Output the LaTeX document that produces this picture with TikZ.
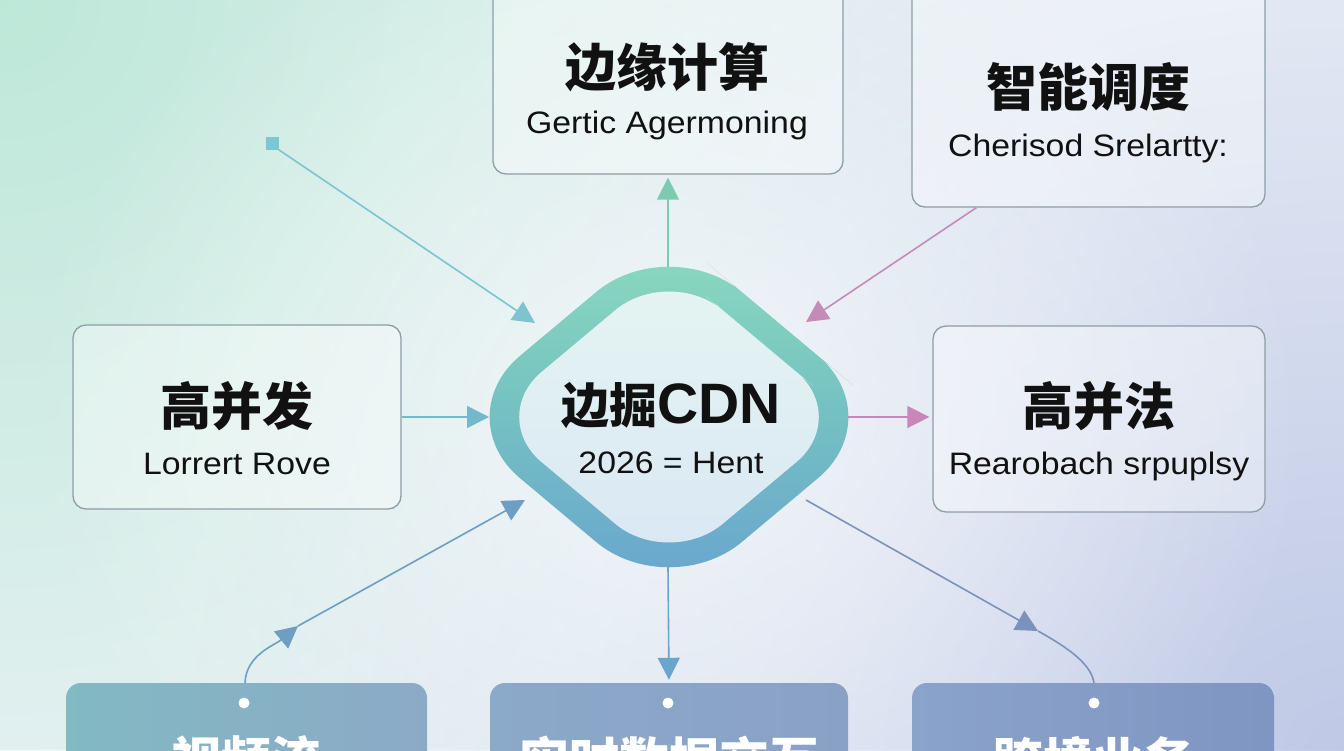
\documentclass[tikz,border=0pt]{standalone}
\usepackage{fontspec}
\setmainfont{Liberation Sans}
\newfontfamily\cjk{Noto Sans CJK SC}
\newfontfamily\subf[FakeStretch=1.09]{Liberation Sans}
\usetikzlibrary{arrows.meta,fadings}
\tikzfading[name=radfade, inner color=transparent!0, outer color=transparent!100]

\definecolor{bgbase}{HTML}{EEF3F8}
\definecolor{bgmint}{HTML}{B5E6D3}
\definecolor{bglav}{HTML}{B4BFE2}
\definecolor{cardline}{HTML}{8D9EA6}
\definecolor{dmtop}{HTML}{8DDCBD}
\definecolor{dmmid}{HTML}{74C0C2}
\definecolor{dmbot}{HTML}{68A2D0}
\definecolor{intop}{HTML}{E5F5F1}
\definecolor{inbot}{HTML}{D9E7F4}
\definecolor{sqc}{HTML}{7CC8D2}
\definecolor{cA}{HTML}{7EC3CF}
\definecolor{cB}{HTML}{7CCBB0}
\definecolor{cC}{HTML}{C58BB8}
\definecolor{cD}{HTML}{74B8CC}
\definecolor{cE}{HTML}{C987B8}
\definecolor{cF}{HTML}{6E9EC2}
\definecolor{cG}{HTML}{6AA5CC}
\definecolor{cH}{HTML}{7B93BB}
\definecolor{bAl}{HTML}{82B9C3}
\definecolor{bAr}{HTML}{8CAAC6}
\definecolor{bBl}{HTML}{8BA9C9}
\definecolor{bBr}{HTML}{8AA1C6}
\definecolor{bCl}{HTML}{8AA3CB}
\definecolor{bCr}{HTML}{7F95C2}
\definecolor{txt}{HTML}{111111}

\tikzset{
  card/.style={draw=cardline, line width=1.3pt, rounded corners=13pt, fill=white, fill opacity=0.35, inner sep=0pt},
  bcard/.style={rounded corners=15pt, inner sep=0pt, shade},
  ttl/.style={font=\cjk\bfseries\fontsize{51}{51}\selectfont, text=txt, inner sep=0pt},
  subt/.style={font=\subf\fontsize{31}{31}\selectfont, text=txt, inner sep=0pt, anchor=base},
  btxt/.style={font=\cjk\bfseries\fontsize{50}{50}\selectfont, text=white, inner sep=0pt},
  conn/.style={line width=1.6pt, -{Triangle[length=22pt,width=22pt]}},
  plainconn/.style={line width=1.6pt},
  dotw/.style={circle, fill=white, inner sep=0pt, minimum size=11pt},
}

\begin{document}
\begin{tikzpicture}[x=1pt,y=-1pt]
\useasboundingbox (0,0) rectangle (1344,750);
\clip (0,0) rectangle (1344,750);

% background
\fill[bgbase] (0,0) rectangle (1344,750);
\fill[bgmint, opacity=0.85, path fading=radfade] (0,0) ellipse [x radius=1050pt, y radius=1000pt];
\fill[bglav, opacity=0.8, path fading=radfade] (1344,750) ellipse [x radius=1150pt, y radius=1000pt];
\fill[white, opacity=0.7, path fading=radfade] (669,417) ellipse [x radius=640pt, y radius=560pt];

% cards
\node[card, minimum width=350pt, minimum height=214pt] (topc) at (668,67) {};
\node[card, minimum width=353pt, minimum height=247pt] (topr) at (1088.5,83.5) {};
\node[card, minimum width=328pt, minimum height=184pt] (leftc) at (237,417) {};
\node[card, minimum width=332pt, minimum height=186pt] (rightc) at (1099,419) {};

\node[bcard, left color=bAl, right color=bAr, minimum width=361pt, minimum height=107pt] (b1) at (246.5,736.5) {};
\node[bcard, left color=bBl, right color=bBr, minimum width=358pt, minimum height=107pt] (b2) at (669,736.5) {};
\node[bcard, left color=bCl, right color=bCr, minimum width=362pt, minimum height=107pt] (b3) at (1093,736.5) {};

% connector end points
\node[fill=sqc, minimum size=13pt, inner sep=0pt] (sq) at (272,143) {};
\coordinate (t1) at (535,323);
\coordinate (hubN) at (668,268);
\coordinate (t3) at (806,322);
\coordinate (t4) at (489,417);
\coordinate (hubE) at (848,417);
\coordinate (m6) at (298,626);
\coordinate (t6) at (525,500);
\coordinate (hubS) at (668,567);
\coordinate (hubSE) at (806,500);
\coordinate (m8) at (1038,631);

% connectors
\draw[conn, cA] (sq.south east) -- (t1);
\draw[conn, cB, shorten >=3pt] (hubN) -- (topc.south);
\draw[conn, cC] ([xshift=65pt]topr.south west) -- (t3);
\draw[conn, cD] (leftc.east |- t4) -- (t4);
\draw[conn, cE, shorten >=3pt] (hubE) -- (rightc.west |- hubE);
\draw[conn, cF] ([xshift=-1.5pt]b1.north) .. controls (246,655) and (275,645) .. (m6);
\draw[conn, cF] (m6) -- (t6);
\draw[conn, cG, shorten >=3pt] (hubS) -- (b2.north);
\draw[conn, cH] (hubSE) -- (m8);
\draw[plainconn, cH] (m8) .. controls (1072,650) and (1091,665) .. ([xshift=1pt]b3.north);

% hub diamond
\shade[top color=dmtop, bottom color=dmbot, middle color=dmmid, rounded corners=95pt]
  (780,324) -- (891,417) -- (669,603) -- (447,417) -- (669,231) -- cycle;
\shade[top color=intop, bottom color=inbot, rounded corners=70pt]
  (759.6,341.1) -- (850.2,417) -- (669,568.8) -- (487.8,417) -- (669,265.2) -- cycle;

% texts
\node[ttl] (topct) at (667,67) {边缘计算};
\node[subt] (topcs) at (667,133) {Gertic Agermoning};
\node[ttl] (toprt) at (1088,87) {智能调度};
\node[subt] (toprs) at (1088,156) {Cherisod Srelartty:};
\node[ttl] (leftt) at (237,406) {高并发};
\node[subt] (lefts) at (237,474) {Lorrert Rove};
\node[ttl] (rightt) at (1099,406) {高并法};
\node[subt] (rights) at (1099,474) {Rearobach srpuplsy};
\node[inner sep=0pt, text=txt] (hubt) at (671,405) {\cjk\bfseries\fontsize{48}{48}\selectfont 边掘\fontspec{Liberation Sans}\bfseries\fontsize{57}{57}\selectfont CDN};
\node[subt] (hubs) at (671,473) {2026 = Hent};

% bottom dots and texts
\node[dotw] (d1) at (244,703) {};
\node[dotw] (d2) at (668,703) {};
\node[dotw] (d3) at (1094,703) {};
\node[btxt] (l1) at (246,760) {视频流};
\node[btxt] (l2) at (669,760) {实时数据交互};
\node[btxt] (l3) at (1093,760) {跨境业务};
\end{tikzpicture}
\end{document}
